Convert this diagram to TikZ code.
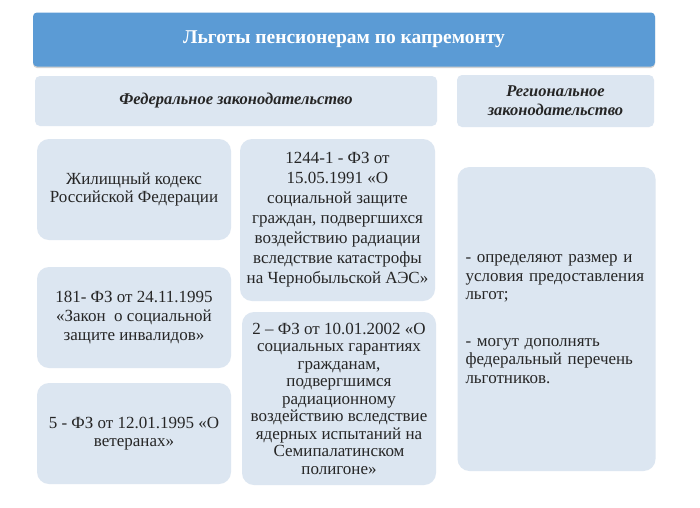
\documentclass[tikz,border=0pt]{standalone}
\usepackage{fontspec}
\setmainfont{Liberation Serif}
\usepackage{xcolor}
\usetikzlibrary{positioning,shadows}

\definecolor{titleblue}{HTML}{5B9BD5}
\definecolor{paleblue}{HTML}{DCE6F1}
\definecolor{inkgray}{HTML}{262626}

\tikzset{
  titlebox/.style={rectangle,rounded corners=4pt,fill=titleblue,text=white,
    font=\fontsize{19.5}{23}\selectfont\bfseries,
    drop shadow={shadow xshift=0pt,shadow yshift=-1.5pt,opacity=0.35}},
  headbox/.style={rectangle,rounded corners=5pt,fill=paleblue,text=inkgray,
    align=center,font=\fontsize{16.5}{19}\selectfont\bfseries\itshape},
  lawbox/.style={rectangle,rounded corners=12pt,fill=paleblue,text=inkgray,
    align=center,minimum width=194pt,inner sep=1pt,
    font=\fontsize{17}{20}\selectfont},
}

\begin{document}
\begin{tikzpicture}[x=1pt,y=-1pt]
\useasboundingbox (0,0) rectangle (700,507);
\fill[white] (0,0) rectangle (700,507);
% title and column heads
\node[titlebox,minimum width=622pt,minimum height=54pt] (title) at (344,39.5)
  {Льготы пенсионерам по капремонту};
\node[headbox,minimum width=402pt,minimum height=50pt] (fedhead) at (236,101)
  {Федеральное законодательство};
\node[headbox,minimum width=197pt,minimum height=52pt] (reghead) at (555.5,101)
  {Региональное\\законодательство};
% federal laws
\node[lawbox,minimum height=101pt,font=\fontsize{17}{18}\selectfont] (zhk) at (134,189.5)
  {Жилищный кодекс\\Российской Федерации};
\node[lawbox,minimum width=195pt,minimum height=162pt] (chern) at (337.5,220)
  {1244-1 - ФЗ от\\15.05.1991 «О\\социальной защите\\граждан, подвергшихся\\воздействию радиации\\вследствие катастрофы\\на Чернобыльской АЭС»};
\node[lawbox,minimum height=101pt,font=\fontsize{17}{19}\selectfont] (inv) at (134,317.5)
  {181- ФЗ от 24.11.1995\\«Закон\ \ о социальной\\защите инвалидов»};
\node[lawbox,minimum height=173pt,font=\fontsize{17}{17.5}\selectfont] (sem) at (339,398.5)
  {2 – ФЗ от 10.01.2002 «О\\социальных гарантиях\\гражданам,\\подвергшимся\\радиационному\\воздействию вследствие\\ядерных испытаний на\\Семипалатинском\\полигоне»};
\node[lawbox,minimum height=101pt,font=\fontsize{17}{18}\selectfont] (vet) at (134,433.5)
  {5 - ФЗ от 12.01.1995 «О\\ветеранах»};
% regional laws
\node[lawbox,align=left,text width=182pt,inner xsep=8pt,minimum width=197pt,
  minimum height=304pt,font=\fontsize{17}{18.5}\selectfont] (regbox) at (556.5,319)
  {- определяют размер и\\условия предоставления\\льгот;\\[28pt]- могут дополнять\\федеральный перечень\\льготников.};
\end{tikzpicture}
\end{document}
